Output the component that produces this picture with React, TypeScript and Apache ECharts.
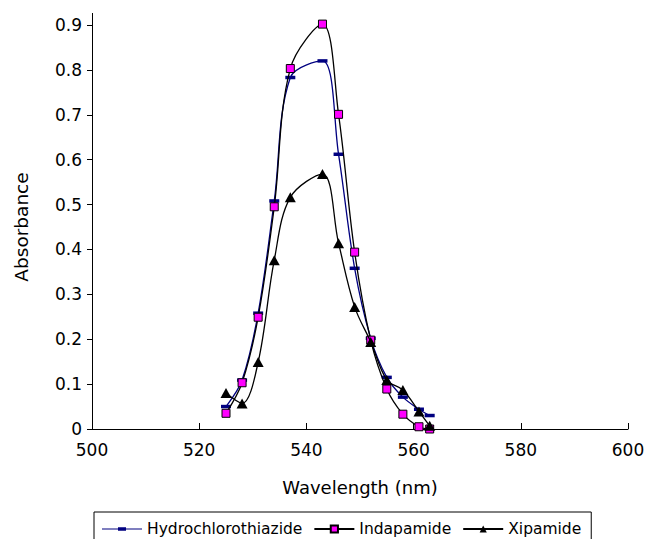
import React, { useEffect, useRef } from "react";
import * as echarts from "echarts";

const wavelengths = [525, 528, 531, 534, 537, 543, 546, 549, 552, 555, 558, 561, 563];
const hydrochlorothiazide = [0.05, 0.109, 0.258, 0.508, 0.783, 0.82, 0.612, 0.358, 0.202, 0.115, 0.071, 0.044, 0.03];
const indapamide = [0.035, 0.103, 0.249, 0.495, 0.803, 0.902, 0.701, 0.394, 0.198, 0.089, 0.033, 0.005, 0.0];
const xipamide = [0.08, 0.057, 0.149, 0.376, 0.516, 0.568, 0.414, 0.272, 0.194, 0.109, 0.087, 0.039, 0.007];
const seriesNames = ["Hydrochlorothiazide", "Indapamide", "Xipamide"];
const xTicks = { min: 500, max: 600, interval: 20 };
const yTicks = { min: 0, max: 0.9, interval: 0.1 };

const FONT = "DejaVu Sans";
const DASH_LEGEND = "path://M0 1.2H40V2.2H0Z M16 0H24V3.4H16Z";

function pairs(ys: number[]) {
  return wavelengths.map((x, i) => [x, ys[i]]);
}

export default function App() {
  const ref = useRef<HTMLDivElement>(null);
  useEffect(() => {
    if (!ref.current) return;
    const chart = echarts.init(ref.current, undefined, { renderer: "svg" });
    const GL = 92, GR = 20, GT = 25, GB = 110;
    chart.setOption({
      animation: false,
      backgroundColor: "#ffffff",
      textStyle: { fontFamily: FONT, color: "#000" },
      grid: { left: GL, right: GR, top: GT, bottom: GB, containLabel: false },
      xAxis: {
        type: "value",
        min: xTicks.min,
        max: xTicks.max,
        interval: xTicks.interval,
        name: "Wavelength (nm)",
        nameLocation: "middle",
        nameGap: 49,
        nameTextStyle: { fontFamily: FONT, fontSize: 18, color: "#000" },
        axisLine: { show: true, onZero: false, lineStyle: { color: "#000", width: 1 } },
        axisTick: { show: true, inside: true, length: 6, lineStyle: { color: "#000" } },
        axisLabel: { fontFamily: FONT, fontSize: 17, color: "#000", margin: 12 },
        splitLine: { show: false },
      },
      yAxis: {
        type: "value",
        min: yTicks.min,
        max: yTicks.max,
        interval: yTicks.interval,
        name: "Absorbance",
        nameLocation: "middle",
        nameGap: 61,
        nameRotate: 90,
        nameTextStyle: { fontFamily: FONT, fontSize: 18.5, color: "#000" },
        axisLine: { show: true, lineStyle: { color: "#000", width: 1 } },
        axisTick: { show: true, inside: false, length: 5, lineStyle: { color: "#000" } },
        axisLabel: {
          fontFamily: FONT,
          fontSize: 17,
          color: "#000",
          margin: 10,
          formatter: (v: number) => (v === 0 ? "0" : v.toFixed(1)),
        },
        splitLine: { show: false },
      },
      legend: {
        left: 94,
        top: 512,
        orient: "horizontal",
        itemWidth: 40,
        itemHeight: 9,
        itemGap: 11,
        padding: [9, 10, 9, 8],
        borderColor: "#000",
        borderWidth: 1,
        symbolKeepAspect: true,
        textStyle: { fontFamily: FONT, fontSize: 15.5, color: "#000" },
        data: [{ name: seriesNames[0], icon: DASH_LEGEND }, seriesNames[1], seriesNames[2]],
      },
      graphic: [
        {
          type: "line",
          shape: { x1: GL + 0.5, y1: 13, x2: GL + 0.5, y2: GT },
          style: { stroke: "#000", lineWidth: 1 },
        },
      ],
      series: [
        {
          name: seriesNames[0],
          type: "line",
          data: pairs(hydrochlorothiazide),
          smooth: 0.35,
          clip: false,
          symbol: "rect",
          symbolSize: [10, 3.5],
          lineStyle: { color: "#000080", width: 1.3 },
          itemStyle: { color: "#000080" },
          z: 2,
        },
        {
          name: seriesNames[1],
          type: "line",
          data: pairs(indapamide),
          smooth: 0.35,
          clip: false,
          symbol: "rect",
          symbolSize: 8,
          lineStyle: { color: "#000", width: 1.3 },
          itemStyle: { color: "#ff00ff", borderColor: "#000", borderWidth: 1 },
          z: 3,
        },
        {
          name: seriesNames[2],
          type: "line",
          data: pairs(xipamide),
          smooth: 0.35,
          clip: false,
          symbol: "triangle",
          symbolSize: [11, 10],
          lineStyle: { color: "#000", width: 1.3 },
          itemStyle: { color: "#000" },
          z: 4,
        },
      ],
    });
    return () => chart.dispose();
  }, []);
  return (
    <div
      ref={ref}
      style={{ position: "fixed", left: 0, top: 0, width: 648, height: 539, background: "#fff" }}
    />
  );
}
